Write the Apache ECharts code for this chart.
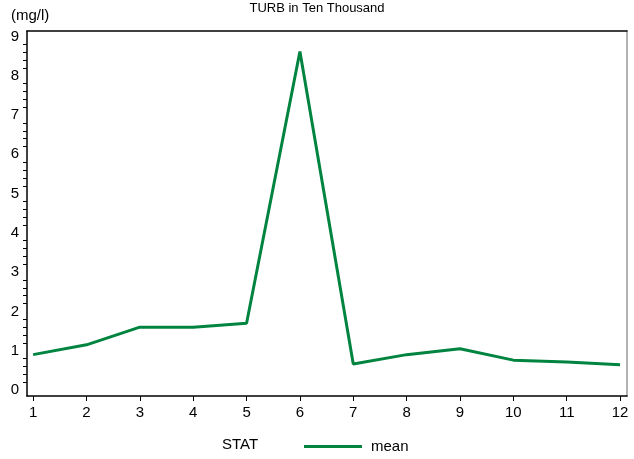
<!doctype html>
<html lang="en">
<head>
    <meta charset="utf-8">
    <title>TURB in Ten Thousand</title>
    <script src="https://cdn.jsdelivr.net/npm/echarts@6/dist/echarts.min.js"></script>
</head>
<body style="margin:0">
    <div id="main" style="width:634px; height:459px;"></div>
    <script type="text/javascript">
        // monthly mean turbidity
        var months = [1, 2, 3, 4, 5, 6, 7, 8, 9, 10, 11, 12];
        var meanValues = [0.90, 1.15, 1.60, 1.60, 1.70, 8.62, 0.66, 0.90, 1.05, 0.76, 0.71, 0.64];
        var yLabels = [0, 1, 2, 3, 4, 5, 6, 7, 8, 9];

        // minor ticks every 0.2 between the labels
        var yMinor = [];
        for (var i = 0; i < 9; i++) {
            for (var k = 1; k < 5; k++) yMinor.push(+(i + k * 0.2).toFixed(1));
        }

        var font = 'Liberation Sans, Arial, sans-serif';
        var chartDom = document.getElementById('main');
        var myChart = echarts.init(chartDom);
        var option = {
            animation: false,
            title: {
                text: 'TURB in Ten Thousand',
                left: 'center',
                top: -3,
                textStyle: { fontFamily: font, fontSize: 13, fontWeight: 'normal', color: '#000' }
            },
            graphic: [
                { type: 'text', left: 11, top: 8, style: { text: '(mg/l)', font: '15px ' + font, fill: '#000' } },
                { type: 'text', left: 222, top: 437, style: { text: 'STAT', font: '15px ' + font, fill: '#000' } }
            ],
            legend: {
                left: 299,
                top: 434,
                itemWidth: 58,
                itemHeight: 3,
                icon: 'rect',
                textStyle: { fontFamily: font, fontSize: 15, color: '#000', padding: [0, 0, 0, 4] },
                data: ['mean']
            },
            grid: { left: 27, right: 7, top: 31, bottom: 63 },
            xAxis: [{
                type: 'value',
                min: 0.885,
                max: 12.13,
                splitLine: { show: false },
                axisLine: { onZero: false, lineStyle: { color: '#000', width: 1.5 } },
                axisTick: { customValues: months, length: 5, lineStyle: { color: '#000' } },
                axisLabel: { customValues: months, margin: 9, fontFamily: font, fontSize: 15, color: '#000' }
            }, {
                type: 'value',
                position: 'top',
                min: 0.885,
                max: 12.13,
                splitLine: { show: false },
                axisLine: { show: true, onZero: false, lineStyle: { color: '#000', width: 1.5 } },
                axisTick: { show: false },
                axisLabel: { show: false }
            }],
            yAxis: [{
                type: 'value',
                min: -0.153,
                max: 9.14,
                splitLine: { show: false },
                axisLine: { show: true, onZero: false, lineStyle: { color: '#000', width: 1.5 } },
                axisTick: { show: true, customValues: yMinor, length: 4, lineStyle: { color: '#000' } },
                axisLabel: { customValues: yLabels, margin: 8, fontFamily: font, fontSize: 15, color: '#000' }
            }, {
                type: 'value',
                position: 'right',
                min: -0.153,
                max: 9.14,
                splitLine: { show: false },
                axisLine: { show: true, onZero: false, lineStyle: { color: '#999', width: 1.5 } },
                axisTick: { show: false },
                axisLabel: { show: false }
            }],
            series: [{
                name: 'mean',
                type: 'line',
                data: months.map(function (m, idx) { return [m, meanValues[idx]]; }),
                symbol: 'none',
                color: '#00843f',
                lineStyle: { width: 3, color: '#00843f' }
            }]
        };
        myChart.setOption(option);
    </script>
</body>
</html>
